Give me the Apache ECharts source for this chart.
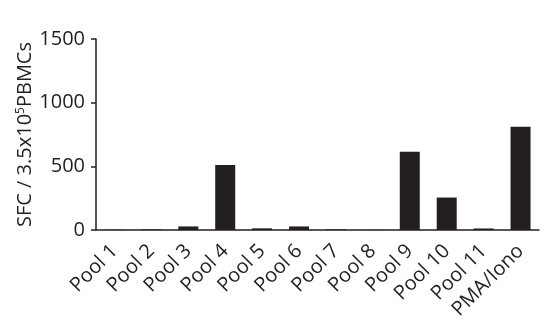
<!DOCTYPE html>
<html><head><meta charset="utf-8">
<script src="https://cdn.jsdelivr.net/npm/echarts@6/dist/echarts.min.js"></script>
<style>html,body{margin:0;padding:0;background:#fff}#c{width:550px;height:333px}</style>
</head><body><div id="c"></div>
<script>
var categories = ['Pool 1','Pool 2','Pool 3','Pool 4','Pool 5','Pool 6','Pool 7','Pool 8','Pool 9','Pool 10','Pool 11','PMA/Iono'];
var values = [2, 5, 28, 510, 13, 28, 5, 1, 615, 255, 12, 810];
var yTicks = [0, 500, 1000, 1500];

var chart = echarts.init(document.getElementById('c'), null, {renderer:'canvas'});
var axisColor = '#231f20';
var font = 'Open Sans';
chart.setOption({
  animation:false,
  grid:{left:96, right:11, top:39, bottom:103, containLabel:false},
  xAxis:{
    type:'category', data:categories,
    axisLine:{lineStyle:{color:axisColor, width:1.5}},
    axisTick:{alignWithLabel:true, length:6, lineStyle:{color:axisColor, width:1.5}},
    axisLabel:{rotate:45, interval:0, margin:18, color:axisColor, fontSize:20, fontFamily:font}
  },
  yAxis:{
    type:'value', min:yTicks[0], max:yTicks[yTicks.length-1], interval:500,
    splitLine:{show:false},
    axisLine:{show:true, lineStyle:{color:axisColor, width:1.5}},
    axisTick:{show:true, length:5, lineStyle:{color:axisColor, width:1.5}},
    axisLabel:{margin:11, color:axisColor, fontSize:20, fontFamily:font, formatter:function(v){return String(v);}},
    name:'{a|SFC / 3.5x10}{s|5}{a|PBMCs}', nameLocation:'middle', nameGap:60, nameRotate:90,
    nameMoveOverlap:false,
    nameTextStyle:{rich:{a:{fontSize:20, fontFamily:font, color:axisColor}, s:{fontSize:12, fontFamily:font, color:axisColor, verticalAlign:'top', padding:[0,0,9,0]}}}
  },
  series:[{type:'bar', data:values, barWidth:20, itemStyle:{color:'#231f20'}}]
});
</script></body></html>
